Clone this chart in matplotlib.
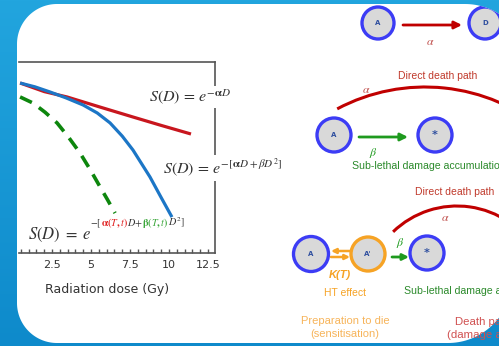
import numpy as np
import matplotlib
matplotlib.use('Agg')
import matplotlib.pyplot as plt
from matplotlib.colors import LinearSegmentedColormap
from matplotlib.patches import Polygon, Circle, Arc
from matplotlib.ticker import MultipleLocator

# survival curves (dose in Gy, survival as fraction of axes height)
dose_linear = [0.45, 2.0, 3.46, 5.58, 7.69, 9.5, 11.41]
surv_linear = [0.89, 0.845, 0.817, 0.764, 0.712, 0.668, 0.623]

dose_lq = [0.45, 1.4, 2.37, 3.4, 4.49, 5.4, 6.22, 7.0, 7.69, 8.78, 9.5, 10.19]
surv_lq = [0.89, 0.87, 0.843, 0.812, 0.775, 0.733, 0.681, 0.612, 0.539, 0.398, 0.29, 0.188]

dose_ht = [0.45, 1.28, 2.05, 2.82, 3.55, 4.29, 4.95, 5.58, 6.05, 6.54]
surv_ht = [0.817, 0.785, 0.737, 0.681, 0.607, 0.524, 0.436, 0.346, 0.28, 0.209]

xticks = [2.5, 5, 7.5, 10, 12.5]
xtick_labels = ['2.5', '5', '7.5', '10', '12.5']

W, H = 499, 346
plt.rcParams['mathtext.fontset'] = 'stix'

fig = plt.figure(figsize=(W / 100, H / 100), dpi=100)


def fx(x):
    return x / W


def fy(y):
    return 1 - y / H


# background + white panel (pixel coords, y down)
bg = fig.add_axes([0, 0, 1, 1])
bg.set_xlim(0, W)
bg.set_ylim(H, 0)
bg.axis('off')
grad = np.linspace(0, 1, 256).reshape(-1, 1)
cmap = LinearSegmentedColormap.from_list('bgblue', ['#22a5de', '#0e8acb'])
bg.imshow(grad, extent=[0, W, H, 0], aspect='auto', cmap=cmap, zorder=0)


def corner(cx, cy, r, a0, a1):
    t = np.radians(np.linspace(a0, a1, 40))
    return np.column_stack([cx + r * np.cos(t), cy + r * np.sin(t)])


outline = np.vstack([
    corner(57, 44, 40, 180, 270),
    corner(465, 67, 63, 270, 360),
    corner(448, 279, 64, 0, 90),
    corner(57, 303, 40, 90, 180),
])
panel = Polygon(outline, closed=True, fc='white', ec='none', zorder=1)
bg.add_patch(panel)

RED = '#c00000'
GREEN = '#1e9a1e'
BLUE_EDGE = '#3c3cf5'
ORANGE = '#f6a325'


def clip(artist):
    artist.set_clip_path(panel)
    return artist


def node(x, y, label, edge, r=17, size=5):
    clip(bg.add_patch(Circle((x, y), r, fc='#d9d9d9', ec=edge, lw=2.4, zorder=3)))
    clip(bg.text(x, y, label, ha='center', va='center', fontsize=size,
                 fontweight='bold', color='#2f4f9f', zorder=4))


def arrow(x0, y0, x1, y1, color, lw=2.0, ms=11):
    a = bg.annotate('', xy=(x1, y1), xytext=(x0, y0), zorder=3,
                    arrowprops=dict(arrowstyle='-|>', color=color, lw=lw,
                                    mutation_scale=ms, shrinkA=0, shrinkB=0))
    clip(a.arrow_patch)


def label(x, y, s, color, size=7, ha='center', **kw):
    clip(bg.text(x, y, s, ha=ha, va='center', fontsize=size, color=color,
                 family='Liberation Sans', zorder=4, **kw))


# row 1: A -> D
node(378, 23, 'A', BLUE_EDGE, r=16)
node(485, 23, 'D', BLUE_EDGE, r=16)
arrow(403, 25, 462, 25, RED)
label(430, 42, r'$\alpha$', '#c0504d', size=8.5)

# row 2: direct path + sub-lethal accumulation
label(438, 76, 'Direct death path', '#c0392b', size=7.5)
clip(bg.add_patch(Arc((425, 274), 374, 374, theta1=242, theta2=310,
                      color=RED, lw=2.2, zorder=2)))
label(366, 90, r'$\alpha$', '#c0504d', size=8.5)
node(334, 135, 'A', BLUE_EDGE)
arrow(359, 137, 408, 137, GREEN)
label(373, 153, r'$\beta$', GREEN, size=8.5)
node(435, 135, '*', BLUE_EDGE, size=8)
arrow(463, 137, 505, 137, GREEN)
label(352, 166, 'Sub-lethal damage accumulation', '#2b8a2b', size=7.6, ha='left')

# row 3: hyperthermia sensitisation
label(455, 192, 'Direct death path', '#c0392b', size=7.5)
clip(bg.add_patch(Arc((457, 298), 184, 184, theta1=226, theta2=330,
                      color=RED, lw=2.2, zorder=2)))
label(445, 218, r'$\alpha$', '#c0504d', size=8.5)
node(311, 254, 'A', BLUE_EDGE, r=17.5)
node(368, 254, "A'", ORANGE)
arrow(350, 251, 331, 251, ORANGE, lw=1.8, ms=7)
arrow(331, 257, 350, 257, ORANGE, lw=1.8, ms=7)
label(340, 275, 'K(T)', ORANGE, size=8, fontstyle='italic', fontweight='bold')
label(345, 293, 'HT effect', ORANGE, size=7.5)
label(345, 321, 'Preparation to die', '#f7b45a', size=8)
label(345, 334, '(sensitisation)', '#f7b45a', size=8)
arrow(392, 257, 409, 257, GREEN, ms=9)
label(400, 243, r'$\beta$', GREEN, size=8.5)
node(427, 253, '*', BLUE_EDGE, size=8)
arrow(453, 257, 505, 257, GREEN)
label(404, 291, 'Sub-lethal damage accumulation', '#2b8a2b', size=7.6, ha='left')
label(455, 322, 'Death pathway', '#d05050', size=8.2, ha='left')
label(447, 335, '(damage accumulation)', '#d05050', size=8.2, ha='left')

# survival curve plot
ax = fig.add_axes([fx(19), fy(253), (215 - 19) / W, (253 - 62) / H])
ax.patch.set_alpha(0)
ax.plot(dose_linear, surv_linear, color='#c8161e', lw=2.3, solid_capstyle='butt')
ax.plot(dose_lq, surv_lq, color='#1c76c6', lw=2.3, solid_capstyle='butt')
ax.plot(dose_ht, surv_ht, color='#0d860d', lw=2.6, ls=(0, (3.6, 2.4)))
ax.set_xlim(0.38, 12.95)
ax.set_ylim(0, 1)
ax.set_xticks(xticks)
ax.set_xticklabels(xtick_labels)
ax.xaxis.set_minor_locator(MultipleLocator(0.5))
ax.set_yticks([])
ax.spines['left'].set_visible(False)
for side in ['top', 'right', 'bottom']:
    ax.spines[side].set_color('#555555')
    ax.spines[side].set_linewidth(1.2)
ax.tick_params(axis='x', which='both', direction='in', length=3, width=1,
               color='#555555', labelcolor='#333333', labelsize=8, pad=5)

fig.text(fx(107), fy(289), 'Radiation dose (Gy)', ha='center', va='center',
         fontsize=9, color='#333333')

# equation labels (white box hides the right spine behind them)
box = dict(fc='white', ec='none', pad=1)
fig.text(fx(149), fy(97), r'$S(D)\,=\,e^{-\mathbf{\alpha}D}$', ha='left',
         va='center', fontsize=11.5, color='#333333', bbox=box)
fig.text(fx(163), fy(168), r'$S(D)\,=\,e^{-[\mathbf{\alpha}D+\beta D^2]}$',
         ha='left', va='center', fontsize=11.5, color='#333333', bbox=box)

# coloured equation: base text, then exponent pieces placed by measured prefix widths
renderer = fig.canvas.get_renderer()


def text_width(s, size):
    t = fig.text(0, 0, s, fontsize=size)
    w = t.get_window_extent(renderer).width
    t.remove()
    return w


base = fig.text(fx(28), fy(239), r'$S(D)\;=\;e$', ha='left', va='baseline',
                fontsize=12, color='#333333')
x_exp = 28 + base.get_window_extent(renderer).width - 1

sup = 7.3
pieces = [
    ('{-}[', '#333333'),
    (r'\mathbf{\alpha(\mathit{T},\mathit{t})}', '#e02020'),
    ('D{+}', '#333333'),
    (r'\mathbf{\beta(\mathit{T},\mathit{t})}', '#3aa63a'),
    ('D^2]', '#333333'),
]
pad = 2 * text_width('$DD$', sup) - text_width('$DDDD$', sup)
prefix = ''
for i, (s, c) in enumerate(pieces):
    offset = text_width('$' + prefix + '$', sup) - pad + 0.8 * i if prefix else 0
    fig.text(fx(x_exp + offset), fy(226), '$' + s + '$', ha='left', va='baseline',
             fontsize=sup, color=c)
    prefix += s

fig.savefig('out.png', dpi=100)
